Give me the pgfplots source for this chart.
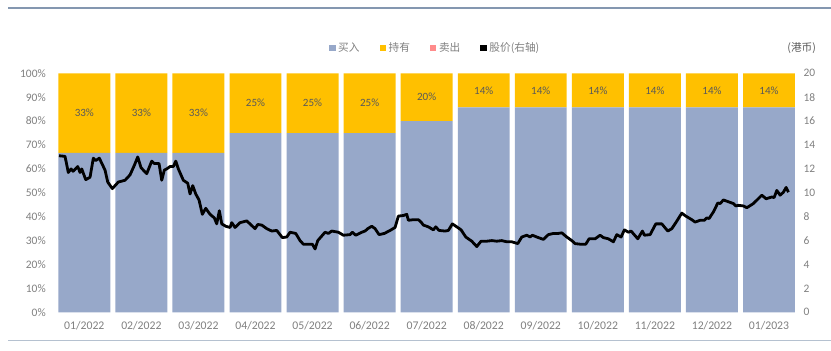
\documentclass[border=0pt]{standalone}
\usepackage{pgfplots}
\pgfplotsset{compat=1.18}
\usepackage{pgfplotstable}
\usepackage{fontspec}
\setmainfont{Carlito}
\newfontfamily\cjk{Noto Sans CJK SC}
\definecolor{buy}{HTML}{97A8C9}
\definecolor{hold}{HTML}{FFC000}
\definecolor{sell}{HTML}{FF8B8B}
\definecolor{txt}{HTML}{7F7F7F}
\definecolor{labc}{HTML}{595959}
\definecolor{rule}{HTML}{8497B0}

\pgfplotstableread{
x buy hold sell
0 66.7 33.3 0
1 66.7 33.3 0
2 66.7 33.3 0
3 75 25 0
4 75 25 0
5 75 25 0
6 80 20 0
7 85.7 14.3 0
8 85.7 14.3 0
9 85.7 14.3 0
10 85.7 14.3 0
11 85.7 14.3 0
12 85.7 14.3 0
}\ratings

\pgfplotstableread{
px price
59 13.1
65 13.05
68.3 11.7
71 12.0
73 11.8
77.7 12.2
80 11.7
81.7 12.0
85.7 11.1
90 11.3
93.3 12.9
95.7 12.7
99.3 12.9
105 11.9
107.7 10.9
112.3 10.35
118.3 10.9
125 11.05
130 11.5
134.3 12.3
137.7 13.0
141 12.1
146.7 11.6
151.7 12.65
154.3 12.45
159 12.45
161.7 11.05
164.3 11.9
166.7 12.0
170 12.2
173.3 12.2
175.7 12.65
178.3 12.0
183.3 11.05
187.7 10.8
190 9.9
192.7 10.6
195.7 9.9
199 9.4
202.3 8.2
205.7 8.7
210 8.2
214.3 7.9
216.7 7.4
219.3 8.5
221.7 7.4
225.7 7.2
230 7.1
231.7 7.5
235 7.1
240 7.5
246.7 7.65
255 7.0
257.7 7.35
261.7 7.3
266.7 7.0
271.7 6.8
276.7 6.85
282.3 6.25
286.7 6.3
290 6.7
295.7 6.6
300 6.0
303.3 5.7
312.3 5.7
315 5.3
317.7 6.0
325 6.7
328.3 6.6
331.7 6.8
338.3 6.7
343.3 6.45
350 6.5
352.3 6.7
355.7 6.45
361.7 6.7
365 6.8
367.7 7.0
371.7 7.2
375 7.0
379 6.5
384.3 6.6
390 6.85
395 7.1
398.3 8.05
403.3 8.1
406.7 8.2
408.3 7.7
413.3 7.75
418.3 7.75
421 7.55
423.3 7.3
428.3 7.15
433.3 6.9
435.7 7.15
439 6.85
445 6.8
448.3 6.85
452.3 7.4
456.7 7.15
461 6.9
465.7 6.3
471.7 5.95
476.7 5.5
481 5.95
486.7 5.95
491.7 6.0
496.7 5.95
501.7 6.0
506.7 5.9
511.7 5.9
517.7 5.75
521.7 6.3
526.7 6.45
530 6.3
532.3 6.45
536.7 6.3
543.3 6.1
548.3 6.5
553.3 6.6
558.3 6.6
561.7 6.65
566.7 6.3
571.7 6.0
575 5.75
580 5.7
585.7 5.7
589 6.15
595 6.15
600 6.45
603.3 6.25
608.3 6.15
613.3 5.9
616.7 6.5
621 6.3
624.3 6.9
628.3 6.7
631 6.8
637.7 6.15
642.3 6.8
644.3 6.45
650 6.5
655.7 7.4
661.7 7.4
667.7 6.8
671.7 7.0
675.7 7.5
681.7 8.3
685.7 8.05
691.7 7.75
695 7.55
700 7.7
704.3 7.7
706.7 7.9
709 7.85
713.3 8.4
717.7 9.15
720 9.1
723.3 9.4
728.3 9.25
733.3 9.1
735.7 8.9
738.3 8.95
743.3 8.9
746.7 8.75
753.3 9.1
761.7 9.8
766 9.5
771.7 9.65
774 9.6
776.7 10.2
780 9.8
783.3 10.05
786 10.45
788.3 10.05
}\price

\begin{document}
\begin{tikzpicture}
\useasboundingbox (0,0) rectangle (623.25pt,262.5pt);
\draw[rule, line width=1.6pt] (6pt,256.5pt) -- (623.25pt,256.5pt);
\draw[rule!60, line width=0.6pt] (6pt,7.5pt) -- (623.25pt,7.5pt);

\begin{axis}[
  at={(41.85pt,28.275pt)}, anchor=south west,
  scale only axis, width=556.3pt, height=179.25pt,
  xmin=-0.5, xmax=12.5, ymin=0, ymax=100,
  ybar stacked, bar width=0.91,
  axis line style={draw=none}, major tick length=0pt,
  xtick={0,...,12},
  xticklabels={01/2022,02/2022,03/2022,04/2022,05/2022,06/2022,07/2022,08/2022,09/2022,10/2022,11/2022,12/2022,01/2023},
  ytick={0,10,...,100},
  yticklabel={\pgfmathprintnumber{\tick}\%},
  /pgf/number format/assume math mode=true,
  x tick label style={font=\fontsize{8.8}{10}\selectfont, text=txt, yshift=-3pt},
  y tick label style={font=\fontsize{8.6}{10}\selectfont, text=txt, xshift=-4pt},
  legend style={at={(0.512,1.106)}, anchor=center, draw=none, fill=none,
    legend columns=4, font=\cjk\fontsize{8}{9}\selectfont, text=txt,
    /tikz/every even column/.append style={column sep=13pt},
    inner sep=0pt},
  legend image code/.code={\fill[#1] (0pt,-2.4pt) rectangle (4.8pt,2.4pt);},
]
\addplot[fill=buy, draw=none] table[x=x, y=buy] {\ratings};
\addlegendentry{买入}
\addplot[fill=hold, draw=none,
  point meta=explicit,
  nodes near coords={\pgfmathprintnumber[fixed,precision=0,assume math mode=true]{\pgfplotspointmeta}\%},
  every node near coord/.append style={anchor=center, font=\fontsize{8.3}{10}\selectfont, text=labc},
] table[x=x, y=hold, meta=hold] {\ratings};
\addlegendentry{持有}
\addplot[fill=sell, draw=none] table[x=x, y=sell] {\ratings};
\addlegendentry{卖出}
\addlegendimage{fill=black, draw=none}
\addlegendentry{股价(右轴)}
\end{axis}

\begin{axis}[
  at={(41.85pt,28.275pt)}, anchor=south west,
  scale only axis, width=556.3pt, height=179.25pt,
  xmin=-0.5, xmax=12.5, ymin=0, ymax=20,
  axis y line*=right, axis x line=none,
  axis line style={draw=none}, major tick length=0pt,
  ytick={0,2,...,20},
  /pgf/number format/assume math mode=true,
  y tick label style={font=\fontsize{8.6}{10}\selectfont, text=txt, anchor=west, xshift=1pt},
]
\addplot[black, line width=2.1pt, line join=round, mark=none]
  table[x expr={(\thisrow{px}-84.3)/57.05}, y=price] {\price};
\end{axis}

\node[anchor=east, font=\cjk\fontsize{8}{9}\selectfont, text=labc] at (615.5pt,226.5pt) {(港币)};
\end{tikzpicture}
\end{document}
